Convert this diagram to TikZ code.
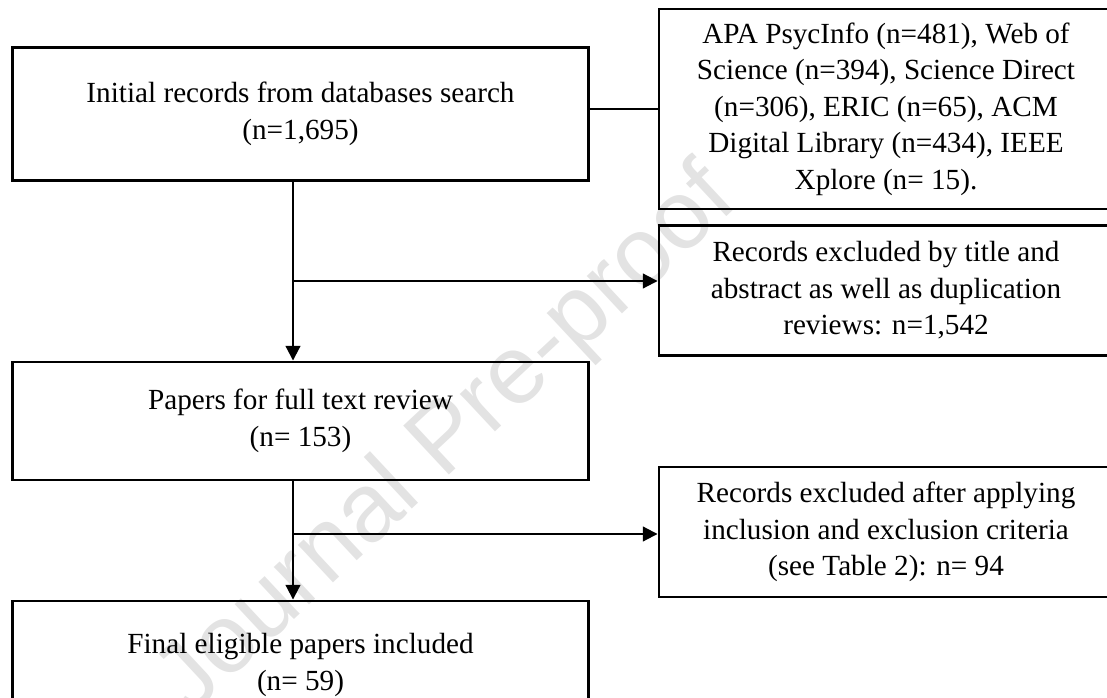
\documentclass[tikz,border=0pt]{standalone}
\usepackage{fontspec}
\usepackage{tikz}
\setmainfont{Liberation Serif}
\newfontfamily\stampfont{Liberation Sans}
\usetikzlibrary{arrows.meta}
\tikzset{
  flowbox/.style={draw, line width=1.2pt, align=center, inner sep=0pt, font=\fontsize{12}{15}\selectfont},
  leftbox/.style={flowbox, minimum width=237.1pt},
  rightbox/.style={flowbox, minimum width=186.6pt},
  flowline/.style={line width=0.85pt},
  flowarrow/.style={flowline, -{Triangle[length=6pt, width=6pt]}},
  stamp/.style={text=black!11, font=\stampfont\fontsize{40}{40}\selectfont}
}

\begin{document}
\begin{tikzpicture}[x=0.411pt, y=-0.411pt]
    \useasboundingbox (0, 0) rectangle (1107, 698);

    \node [stamp, rotate=43] (watermark) at (448, 442) {Journal Pre-proof};

    \node [leftbox, minimum height=54.3pt] (initial) at (300.5, 114) {Initial records from databases search\\(n=1,695)};
    \node [rightbox, minimum height=82.2pt] (sources) at (886, 109) {APA PsycInfo (n=481), Web of\\Science (n=394), Science Direct\\(n=306), ERIC (n=65), ACM\\Digital Library (n=434), IEEE\\Xplore (n= 15).};
    \node [rightbox, minimum height=53.8pt] (screened) at (886, 290.5) {Records excluded by title and\\abstract as well as duplication\\reviews: n=1,542};
    \node [leftbox, minimum height=48.5pt] (fulltext) at (300.5, 421) {Papers for full text review\\(n= 153)};
    \node [rightbox, minimum height=53.4pt] (criteria) at (886, 532) {Records excluded after applying\\inclusion and exclusion criteria\\(see Table 2): n= 94};
    \node [leftbox, minimum height=52.6pt] (final) at (300.5, 665) {Final eligible papers included\\(n= 59)};

    \coordinate (split1) at (293, 281);
    \coordinate (split2) at (293, 534);

    \draw [flowline] (initial.east |- sources.west) -- (sources.west);

    \draw [flowarrow] (initial.south -| split1) -- (fulltext.north -| split1);
    \draw [flowarrow] (split1) -- (split1 -| screened.west);

    \draw [flowarrow] (fulltext.south -| split2) -- (final.north -| split2);
    \draw [flowarrow] (split2) -- (split2 -| criteria.west);
\end{tikzpicture}
\end{document}
